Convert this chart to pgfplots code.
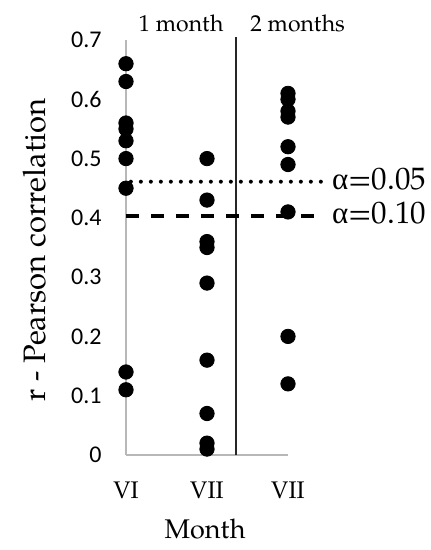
\documentclass[border=0pt]{standalone}
\usepackage{fontspec}
\setmainfont{TeX Gyre Pagella}
\newfontfamily\carlito{Carlito}
\newfontfamily\alphafont{Liberation Serif}
\usepackage{pgfplots}
\pgfplotsset{compat=1.18}
\begin{document}
\begin{tikzpicture}
\path[use as bounding box] (-63pt,-47.5pt) rectangle (152pt,227.5pt);
\begin{axis}[
  scale only axis, width=81pt, height=207.5pt,
  xmin=0, xmax=2, ymin=0, ymax=0.7,
  clip=false,
  axis x line*=bottom, axis y line*=left,
  axis line style={-, draw=black!28, line width=0.75pt},
  xtick={0,1,2}, xticklabels={VI,VII,VII},
  ytick={0,0.1,0.2,0.3,0.4,0.5,0.6,0.7},
  major tick length=0pt,
  /pgf/number format/assume math mode=true,
  yticklabel style={font=\carlito\fontsize{12}{14}\selectfont, xshift=-8.7pt,
    /pgf/number format/fixed, /pgf/number format/precision=1},
  xticklabel style={font=\fontsize{12}{14}\selectfont, yshift=-10pt},
  xlabel={Month},
  xlabel style={font=\fontsize{13.5}{15}\selectfont, at={(axis description cs:0.488,-0.178)}, anchor=center},
  ylabel={r - Pearson correlation},
  ylabel style={font=\fontsize{15.5}{17}\selectfont, at={(axis description cs:-0.562,0.494)}, anchor=center},
]
% separator line
\addplot[black!85, line width=0.6pt] coordinates {(1.358,0) (1.358,0.705)};
% significance lines
\addplot[black, line width=2pt, line cap=round, dash pattern=on 0pt off 5pt] coordinates {(0.06,0.461) (2.42,0.461)};
\addplot[black, line width=1.75pt, dash pattern=on 6.5pt off 6pt] coordinates {(0,0.403) (2.42,0.403)};
% data
\addplot[only marks, mark=*, mark size=3.6pt, black] coordinates {
(0,0.66) (0,0.63) (0,0.56) (0,0.55) (0,0.53) (0,0.50) (0,0.45) (0,0.14) (0,0.11)
};
\addplot[only marks, mark=*, mark size=3.6pt, black] coordinates {
(1,0.50) (1,0.43) (1,0.36) (1,0.35) (1,0.29) (1,0.16) (1,0.07) (1,0.02) (1,0.01)
};
\addplot[only marks, mark=*, mark size=3.6pt, black] coordinates {
(2,0.61) (2,0.60) (2,0.58) (2,0.57) (2,0.52) (2,0.49) (2,0.41) (2,0.20) (2,0.12)
};
\node[anchor=base, font=\fontsize{11.5}{13}\selectfont] at (axis cs:0.68,0.714) {1 month};
\node[anchor=base, font=\fontsize{11.5}{13}\selectfont] at (axis cs:2.12,0.714) {2 months};
\node[anchor=west, inner sep=0pt, font=\fontsize{15.5}{17}\selectfont] at (axis cs:2.54,0.465) {{\alphafont α}=0.05};
\node[anchor=west, inner sep=0pt, font=\fontsize{15.5}{17}\selectfont] at (axis cs:2.54,0.408) {{\alphafont α}=0.10};
\end{axis}
\end{tikzpicture}
\end{document}
